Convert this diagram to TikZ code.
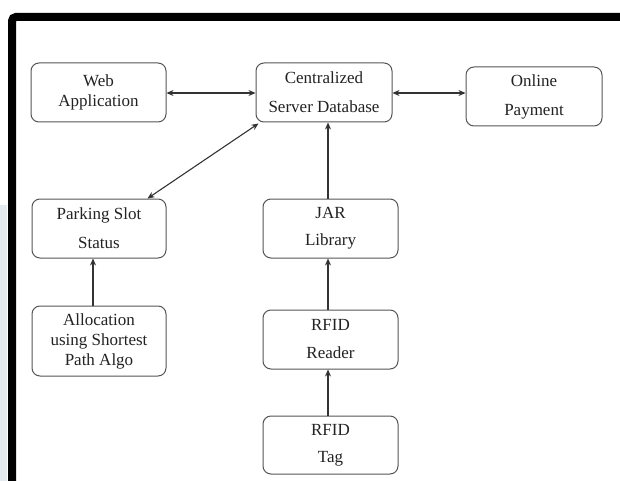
\documentclass[tikz,border=0pt]{standalone}
\usepackage{fontspec}
\setmainfont{Liberation Serif}
\usetikzlibrary{arrows.meta,calc}
\definecolor{boxgray}{HTML}{555555}
\definecolor{linegray}{HTML}{333333}
\definecolor{textgray}{HTML}{222222}
\definecolor{wmark}{HTML}{E4EAEE}
\tikzset{
  box/.style={draw=boxgray, line width=1pt, rounded corners=8pt, align=center,
    inner sep=0pt, font=\fontsize{17}{20}\selectfont, text=textgray},
  arr/.style={draw=linegray, line width=1.1pt, -{Stealth[length=7pt,width=6pt]}},
  biarr/.style={draw=linegray, line width=1.1pt, {Stealth[length=7pt,width=6pt]}-{Stealth[length=7pt,width=6pt]}}
}
\begin{document}
\begin{tikzpicture}[x=1pt,y=-1pt]
\useasboundingbox (0,0) rectangle (620,481);
\fill[white] (0,0) rectangle (620,481);
\fill[wmark] (0,205) rectangle (7,481);
\draw[line width=8pt, rounded corners=4pt] (12,481) -- (12,17) -- (620,17);

\node[box, minimum width=135pt, minimum height=59pt] (web) at (98.5,92.5) {Web\\Application};
\node[box, minimum width=136pt, minimum height=59pt] (central) at (324,92.5) {Centralized\\[9pt]Server Database};
\node[box, minimum width=136pt, minimum height=59pt] (online) at (534,96.5) {Online\\[9pt]Payment};
\node[box, minimum width=134pt, minimum height=59pt] (parking) at (99,228.5) {Parking Slot\\[9pt]Status};
\node[box, minimum width=134pt, minimum height=70pt] (alloc) at (99,341) {Allocation\\using Shortest\\Path Algo};
\node[box, minimum width=135pt, minimum height=59pt] (jar) at (330.5,228.5) {JAR\\[7pt]Library};
\node[box, minimum width=135pt, minimum height=59pt] (reader) at (330.5,339.5) {RFID\\[8pt]Reader};
\node[box, minimum width=135pt, minimum height=58pt] (tag) at (330.5,445) {RFID\\[7pt]Tag};

\coordinate (vx) at (328,0);
\coordinate (ax) at (93,0);
\coordinate (hy) at (0,93);

\draw[biarr] (web.east |- hy) -- (central.west |- hy);
\draw[biarr] (central.east |- hy) -- (online.west |- hy);
\draw[biarr] ($(central.south west)+(3,1)$) -- ($(parking.north east)+(-19,0)$);
\draw[arr] (jar.north -| vx) -- (central.south -| vx);
\draw[arr] (reader.north -| vx) -- (jar.south -| vx);
\draw[arr] (tag.north -| vx) -- (reader.south -| vx);
\draw[arr] (alloc.north -| ax) -- (parking.south -| ax);
\end{tikzpicture}
\end{document}
